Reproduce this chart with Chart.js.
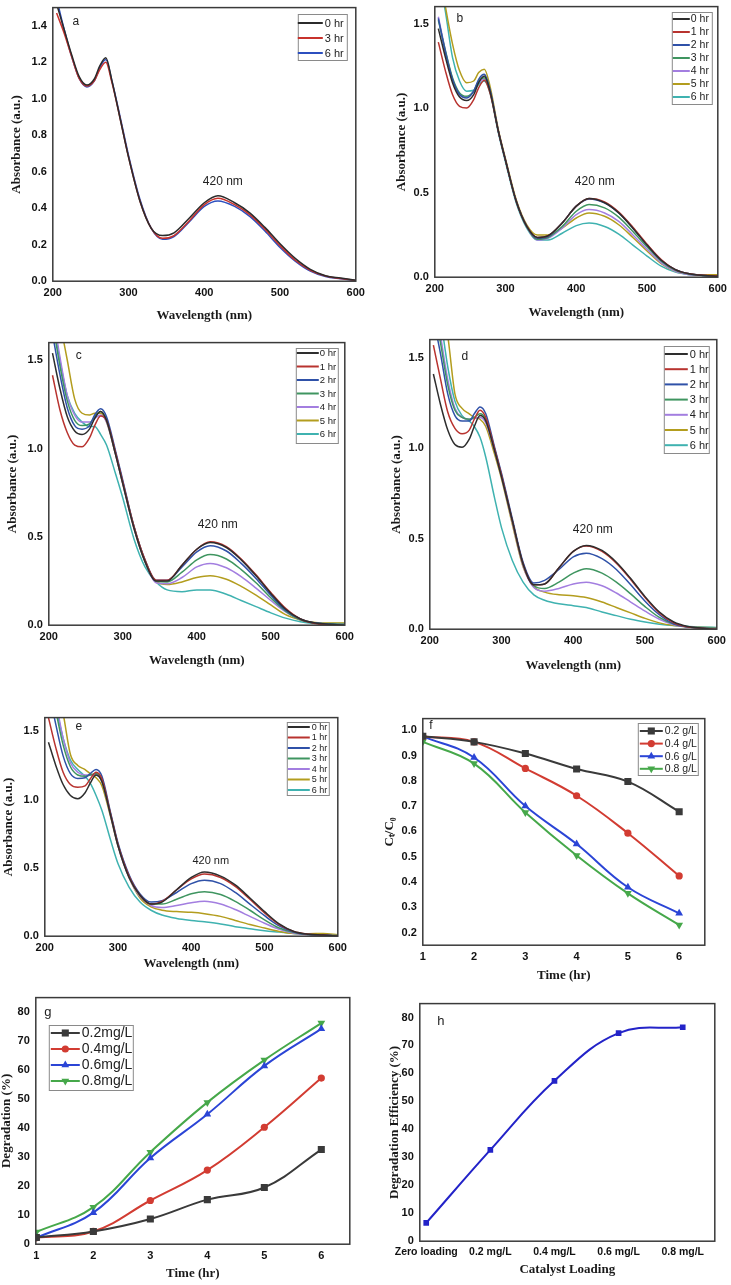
<!DOCTYPE html>
<html>
<head>
<meta charset="utf-8">
<script src="https://cdn.jsdelivr.net/npm/chart.js@4.4.0/dist/chart.umd.min.js"></script>
<style>
  body { margin: 0; background: #fff; width: 731px; height: 1285px; position: relative; overflow: hidden; }
  canvas { position: absolute; }
</style>
</head>
<body>
<canvas id="pa"></canvas>
<canvas id="pb"></canvas>
<canvas id="pc"></canvas>
<canvas id="pd"></canvas>
<canvas id="pe"></canvas>
<canvas id="pf"></canvas>
<canvas id="pg"></canvas>
<canvas id="ph"></canvas>
<script>
// ---- datos ----
const wl = [205, 215, 225, 235, 245, 255, 262, 270, 278, 290, 300, 315, 330, 345, 360, 380, 400, 418, 440, 460, 480, 500, 520, 540, 560, 580, 600];
const wlTicks = [200, 300, 400, 500, 600];
const absTicksA = [0, 0.2, 0.4, 0.6, 0.8, 1.0, 1.2, 1.4];
const absTicks = [0, 0.5, 1.0, 1.5];
const labelsA = ['0 hr', '3 hr', '6 hr'];
const labelsHr = ['0 hr', '1 hr', '2 hr', '3 hr', '4 hr', '5 hr', '6 hr'];

// panel a
const a0 = [1.52,1.38,1.24,1.12,1.075,1.11,1.18,1.225,1.10,0.87,0.68,0.44,0.29,0.25,0.265,0.345,0.43,0.468,0.43,0.375,0.295,0.205,0.125,0.065,0.03,0.017,0.005];
const a3 = [1.47,1.36,1.23,1.11,1.07,1.10,1.16,1.20,1.09,0.87,0.68,0.44,0.29,0.235,0.25,0.33,0.42,0.455,0.42,0.365,0.285,0.195,0.115,0.06,0.028,0.015,0.004];
const a6 = [1.55,1.38,1.23,1.11,1.065,1.10,1.17,1.215,1.10,0.88,0.69,0.45,0.29,0.23,0.245,0.325,0.41,0.44,0.41,0.355,0.275,0.185,0.11,0.055,0.025,0.013,0.003];

// panel b
const b0 = [1.47,1.30,1.15,1.065,1.045,1.08,1.15,1.19,1.10,0.86,0.69,0.45,0.30,0.235,0.245,0.32,0.42,0.465,0.44,0.38,0.29,0.19,0.10,0.045,0.02,0.01,0.005];
const b1 = [1.39,1.22,1.08,1.01,1.00,1.05,1.12,1.165,1.09,0.86,0.69,0.45,0.30,0.235,0.245,0.32,0.42,0.465,0.445,0.385,0.295,0.195,0.105,0.045,0.02,0.012,0.008];
const b2 = [1.53,1.33,1.17,1.08,1.06,1.10,1.17,1.20,1.11,0.86,0.69,0.45,0.30,0.23,0.24,0.32,0.42,0.463,0.44,0.38,0.29,0.19,0.10,0.045,0.02,0.01,0.005];
const b3 = [1.52,1.34,1.18,1.09,1.07,1.10,1.16,1.18,1.10,0.86,0.69,0.45,0.30,0.225,0.235,0.30,0.39,0.43,0.41,0.355,0.27,0.18,0.095,0.04,0.018,0.01,0.005];
const b4 = [1.54,1.34,1.17,1.08,1.065,1.10,1.15,1.17,1.10,0.86,0.69,0.45,0.30,0.22,0.23,0.29,0.37,0.40,0.38,0.33,0.25,0.165,0.085,0.035,0.015,0.01,0.005];
const b5 = [1.85,1.60,1.38,1.22,1.15,1.16,1.21,1.23,1.13,0.87,0.70,0.46,0.31,0.25,0.25,0.29,0.35,0.38,0.36,0.31,0.235,0.155,0.08,0.035,0.018,0.015,0.015];
const b6 = [1.80,1.57,1.30,1.16,1.10,1.105,1.14,1.16,1.09,0.85,0.68,0.44,0.29,0.22,0.22,0.26,0.305,0.32,0.30,0.255,0.19,0.125,0.065,0.03,0.015,0.01,0.005];

// panel c
const c0 = [1.54,1.34,1.18,1.10,1.08,1.11,1.17,1.21,1.16,0.97,0.80,0.55,0.36,0.25,0.25,0.34,0.43,0.468,0.44,0.37,0.28,0.18,0.09,0.035,0.012,0.005,0.0];
const c1 = [1.415,1.22,1.09,1.02,1.01,1.06,1.13,1.185,1.16,0.98,0.81,0.56,0.37,0.255,0.255,0.34,0.43,0.472,0.445,0.375,0.285,0.185,0.095,0.035,0.01,0.0,-0.01];
const c2 = [1.65,1.42,1.23,1.13,1.11,1.13,1.19,1.225,1.18,0.99,0.82,0.56,0.37,0.255,0.255,0.33,0.415,0.45,0.42,0.35,0.265,0.17,0.085,0.035,0.012,0.005,0.0];
const c3 = [1.72,1.47,1.27,1.16,1.13,1.14,1.18,1.21,1.16,0.98,0.81,0.56,0.365,0.25,0.245,0.30,0.37,0.40,0.375,0.315,0.24,0.155,0.08,0.03,0.012,0.008,0.005];
const c4 = [1.78,1.52,1.30,1.19,1.15,1.15,1.17,1.19,1.15,0.97,0.80,0.55,0.36,0.24,0.235,0.27,0.33,0.35,0.325,0.275,0.21,0.14,0.075,0.03,0.012,0.008,0.005];
const c5 = [1.95,1.72,1.50,1.28,1.20,1.19,1.20,1.20,1.15,0.97,0.80,0.55,0.36,0.245,0.23,0.245,0.27,0.28,0.26,0.22,0.17,0.115,0.06,0.03,0.015,0.012,0.012];
const c6 = [1.75,1.50,1.30,1.20,1.15,1.125,1.125,1.08,1.02,0.86,0.72,0.49,0.33,0.245,0.20,0.19,0.20,0.20,0.175,0.14,0.105,0.07,0.04,0.02,0.01,0.01,0.01];

// panel d
const d0 = [1.41,1.24,1.10,1.02,1.005,1.05,1.12,1.18,1.15,0.99,0.84,0.60,0.36,0.245,0.25,0.34,0.43,0.463,0.435,0.37,0.28,0.18,0.095,0.04,0.015,0.005,-0.005];
const d1 = [1.57,1.38,1.20,1.11,1.08,1.10,1.16,1.21,1.17,1.0,0.85,0.60,0.36,0.245,0.25,0.34,0.43,0.46,0.43,0.365,0.275,0.175,0.09,0.035,0.012,0.005,0.0];
const d2 = [1.72,1.52,1.30,1.18,1.15,1.15,1.19,1.228,1.19,1.01,0.86,0.61,0.37,0.255,0.27,0.33,0.40,0.42,0.39,0.33,0.245,0.155,0.08,0.03,0.012,0.005,0.0];
const d3 = [1.80,1.58,1.35,1.21,1.17,1.16,1.17,1.19,1.16,1.0,0.85,0.60,0.36,0.24,0.225,0.26,0.31,0.334,0.31,0.26,0.195,0.125,0.065,0.028,0.012,0.008,0.005];
const d4 = [1.85,1.62,1.38,1.22,1.17,1.16,1.165,1.17,1.14,0.99,0.84,0.59,0.35,0.23,0.21,0.225,0.25,0.26,0.24,0.20,0.15,0.10,0.055,0.025,0.012,0.008,0.005];
const d5 = [1.95,1.80,1.62,1.30,1.22,1.19,1.17,1.16,1.12,0.97,0.83,0.58,0.345,0.235,0.205,0.19,0.185,0.175,0.15,0.12,0.09,0.06,0.035,0.02,0.012,0.01,0.008];
const d6 = [1.95,1.72,1.45,1.26,1.18,1.15,1.12,1.06,0.95,0.73,0.56,0.38,0.26,0.19,0.16,0.14,0.13,0.12,0.095,0.075,0.055,0.04,0.028,0.02,0.015,0.012,0.01];

// panel e
const e0 = [1.42,1.25,1.11,1.03,1.006,1.05,1.12,1.18,1.13,0.88,0.66,0.43,0.30,0.235,0.25,0.34,0.43,0.47,0.44,0.375,0.28,0.18,0.09,0.035,0.015,0.008,0.0];
const e1 = [1.60,1.38,1.20,1.11,1.09,1.10,1.15,1.20,1.15,0.89,0.67,0.44,0.30,0.235,0.255,0.34,0.42,0.455,0.43,0.365,0.27,0.17,0.085,0.035,0.015,0.008,0.0];
const e2 = [1.80,1.55,1.32,1.19,1.155,1.16,1.19,1.22,1.17,0.90,0.68,0.45,0.31,0.25,0.26,0.32,0.385,0.41,0.385,0.32,0.235,0.15,0.075,0.03,0.012,0.008,0.0];
const e3 = [1.90,1.65,1.40,1.24,1.18,1.17,1.18,1.19,1.14,0.89,0.67,0.44,0.30,0.235,0.235,0.27,0.31,0.325,0.305,0.255,0.19,0.12,0.06,0.027,0.012,0.008,0.005];
const e4 = [1.95,1.72,1.45,1.27,1.20,1.18,1.18,1.18,1.13,0.88,0.66,0.43,0.29,0.225,0.21,0.225,0.245,0.255,0.235,0.195,0.145,0.095,0.05,0.022,0.012,0.008,0.005];
const e5 = [2.0,1.85,1.63,1.33,1.25,1.22,1.19,1.16,1.10,0.87,0.66,0.43,0.28,0.215,0.19,0.18,0.175,0.165,0.145,0.115,0.085,0.06,0.035,0.02,0.018,0.02,0.01];
const e6 = [1.90,1.68,1.45,1.29,1.22,1.17,1.12,1.03,0.92,0.70,0.53,0.36,0.25,0.19,0.155,0.13,0.115,0.105,0.09,0.07,0.055,0.04,0.03,0.02,0.015,0.01,0.01];

// panel f / g
const timeHr = [1, 2, 3, 4, 5, 6];
const labelsF = ['0.2 g/L', '0.4 g/L', '0.6 g/L', '0.8 g/L'];
const f02 = [0.976, 0.954, 0.908, 0.847, 0.797, 0.678];
const f04 = [0.975, 0.954, 0.849, 0.741, 0.593, 0.424];
const f06 = [0.976, 0.892, 0.700, 0.550, 0.379, 0.276];
const f08 = [0.954, 0.868, 0.675, 0.505, 0.355, 0.230];
const ctTicks = [0.2, 0.3, 0.4, 0.5, 0.6, 0.7, 0.8, 0.9, 1.0];

const labelsG = ['0.2mg/L', '0.4mg/L', '0.6mg/L', '0.8mg/L'];
const g02 = [2.1, 4.2, 8.5, 15.2, 19.4, 32.5];
const g04 = [2.0, 4.2, 14.9, 25.4, 40.2, 57.2];
const g06 = [2.0, 10.7, 29.6, 44.7, 61.4, 74.2];
const g08 = [4.0, 12.6, 31.6, 48.8, 63.4, 76.2];
const pctTicks = [0, 10, 20, 30, 40, 50, 60, 70, 80];

// panel h
const loadLabels = ['Zero loading', '0.2 mg/L', '0.4 mg/L', '0.6 mg/L', '0.8 mg/L'];
const hEff = [6.3, 32.5, 57.3, 74.4, 76.5];

// ---- estilos ----
const specColors = ['#2e2e2e', '#b8332f', '#2f51a8', '#3f9560', '#a37ee0', '#b39d1e', '#3fb2b0'];
const aColors = ['#2b2b2b', '#c8322c', '#2c4fbf'];
const lineColors = ['#3a3a3a', '#d23c32', '#2b45d6', '#46a84a'];
const SANS = 'Liberation Sans, Arial, sans-serif';
const SERIF = 'Liberation Serif, Times New Roman, serif';
const LH = 13 * 1.2;
const decoMap = {};

const decoPlugin = {
    id: 'deco',
    afterDraw(chart) {
        const d = decoMap[chart.canvas.id];
        if (!d) return;
        const ctx = chart.ctx, ca = chart.chartArea;
        ctx.save();
        // marco completo
        ctx.strokeStyle = '#3a3a3a';
        ctx.lineWidth = 1.5;
        ctx.strokeRect(ca.left, ca.top, ca.right - ca.left, ca.bottom - ca.top);

        // leyenda en caja
        const L = d.legend;
        if (L) {
            const bx = L.box[0] - d.ox, by = L.box[1] - d.oy;
            const bw = L.box[2] - L.box[0], bh = L.box[3] - L.box[1];
            ctx.fillStyle = '#fff';
            ctx.fillRect(bx, by, bw, bh);
            ctx.strokeStyle = '#8a8a8a';
            ctx.lineWidth = 1;
            ctx.strokeRect(bx + 0.5, by + 0.5, bw, bh);
            chart.data.datasets.forEach((ds, i) => {
                const y = L.y0 + i * L.dy - d.oy;
                ctx.strokeStyle = ds.borderColor;
                ctx.lineWidth = 2;
                ctx.beginPath();
                ctx.moveTo(L.lx0 - d.ox, y);
                ctx.lineTo(L.lx1 - d.ox, y);
                ctx.stroke();
                if (ds.pointRadius > 0) {
                    ctx.fillStyle = ds.borderColor;
                    Chart.helpers.drawPoint(ctx, {
                        pointStyle: ds.pointStyle, rotation: ds.pointRotation || 0,
                        radius: ds.pointRadius, borderWidth: 0
                    }, (L.lx0 + L.lx1) / 2 - d.ox, y);
                }
                ctx.fillStyle = '#222';
                ctx.font = L.font;
                ctx.textAlign = 'left';
                ctx.textBaseline = 'middle';
                ctx.fillText(ds.label, L.tx - d.ox, y + 0.5);
            });
        }

        // textos sueltos
        (d.notes || []).forEach(n => {
            ctx.font = n.font;
            ctx.fillStyle = '#222';
            ctx.textAlign = 'center';
            ctx.textBaseline = 'middle';
            ctx.fillText(n.text, n.x - d.ox, n.y - d.oy);
        });
        ctx.restore();
    }
};
Chart.register(decoPlugin);

function axis(o, P, left, isX) {
    return {
        type: 'linear',
        min: o.min,
        max: o.max,
        grid: { display: false, drawTicks: false },
        border: { display: false },
        ticks: {
            padding: isX ? 5 : 6,
            color: '#111',
            autoSkip: false,
            maxRotation: 0,
            font: { family: SANS, weight: 'bold', size: o.tickSize || 11 },
            callback: o.fmt
        },
        title: {
            display: true,
            text: o.title,
            color: '#1a1a1a',
            padding: 0,
            font: { family: SERIF, weight: 'bold', size: 13 }
        },
        afterBuildTicks: s => { s.ticks = o.ticks.map(v => ({ value: v })); },
        afterFit: isX
            ? s => { s.height = P.xty + LH / 2 - P.b; }
            : s => { s.width = P.l - left; }
    };
}

function makePanel(id, P, datasets, xo, yo, deco) {
    const left = P.ytx - LH / 2;
    const top = P.t - 12;
    const w = Math.round(P.r + 14 - left);
    const h = Math.round(P.xty + LH / 2 - top);
    const cv = document.getElementById(id);
    cv.style.left = left + 'px';
    cv.style.top = top + 'px';
    cv.width = w;
    cv.height = h;
    deco.ox = left;
    deco.oy = top;
    decoMap[id] = deco;
    return new Chart(cv.getContext('2d'), {
        type: 'line',
        data: { datasets: datasets },
        options: {
            responsive: false,
            animation: false,
            layout: { padding: { left: 0, top: 12, right: w - (P.r - left), bottom: 0 } },
            plugins: { legend: { display: false }, tooltip: { enabled: false } },
            scales: { x: axis(xo, P, left, true), y: axis(yo, P, left, false) }
        }
    });
}

function specSets(series, labels, colors) {
    return series.map((s, i) => ({
        label: labels[i],
        data: s.map((v, k) => ({ x: wl[k], y: v })),
        borderColor: colors[i],
        borderWidth: 1.5,
        pointRadius: 0,
        cubicInterpolationMode: 'monotone',
        fill: false
    }));
}

const markers = [
    { pointStyle: 'rect', pointRadius: 5, pointRotation: 0 },
    { pointStyle: 'circle', pointRadius: 3.6, pointRotation: 0 },
    { pointStyle: 'triangle', pointRadius: 4.5, pointRotation: 0 },
    { pointStyle: 'triangle', pointRadius: 4.5, pointRotation: 180 }
];

function timeSets(series, labels) {
    return series.map((s, i) => Object.assign({
        label: labels[i],
        data: s.map((v, k) => ({ x: timeHr[k], y: v })),
        borderColor: lineColors[i],
        backgroundColor: lineColors[i],
        pointBackgroundColor: lineColors[i],
        pointBorderWidth: 0,
        borderWidth: 2,
        tension: 0.4,
        fill: false
    }, markers[i]));
}

const fmt1 = v => v.toFixed(1);
const fmt0 = v => String(v);
const wlX = { min: 200, max: 600, ticks: wlTicks, fmt: fmt0, title: 'Wavelength (nm)' };
const absY = { min: 0, max: 1.6, ticks: absTicks, fmt: fmt1, title: 'Absorbance (a.u.)' };
const fontNote = '12px ' + SANS;

// a
makePanel('pa', { l: 53, t: 7, r: 356, b: 281, ytx: 17, xty: 315 },
    specSets([a0, a3, a6], labelsA, aColors), wlX,
    { min: 0, max: 1.5, ticks: absTicksA, fmt: fmt1, title: 'Absorbance (a.u.)' },
    { legend: { box: [298, 14, 347, 60], y0: 23, dy: 15, lx0: 298, lx1: 323, tx: 325, font: '11px ' + SANS },
      notes: [{ text: 'a', x: 76, y: 22, font: fontNote }, { text: '420 nm', x: 223, y: 182, font: fontNote }] });

// b
makePanel('pb', { l: 435, t: 6, r: 718, b: 277, ytx: 402, xty: 312 },
    specSets([b0, b1, b2, b3, b4, b5, b6], labelsHr, specColors), wlX, absY,
    { legend: { box: [672, 12, 712, 104], y0: 19, dy: 13, lx0: 673, lx1: 690, tx: 691, font: '10.5px ' + SANS },
      notes: [{ text: 'b', x: 460, y: 19, font: fontNote }, { text: '420 nm', x: 595, y: 182, font: fontNote }] });

// c
makePanel('pc', { l: 49, t: 342, r: 345, b: 625, ytx: 13, xty: 660 },
    specSets([c0, c1, c2, c3, c4, c5, c6], labelsHr, specColors), wlX, absY,
    { legend: { box: [296, 348, 338, 443], y0: 353, dy: 13.5, lx0: 297, lx1: 319, tx: 320, font: '9.5px ' + SANS },
      notes: [{ text: 'c', x: 79, y: 356, font: fontNote }, { text: '420 nm', x: 218, y: 525, font: fontNote }] });

// d
makePanel('pd', { l: 430, t: 339, r: 717, b: 629, ytx: 397, xty: 665 },
    specSets([d0, d1, d2, d3, d4, d5, d6], labelsHr, specColors), wlX, absY,
    { legend: { box: [664, 346, 709, 453], y0: 354, dy: 15.2, lx0: 665, lx1: 688, tx: 690, font: '11px ' + SANS },
      notes: [{ text: 'd', x: 465, y: 357, font: fontNote }, { text: '420 nm', x: 593, y: 530, font: fontNote }] });

// e
makePanel('pe', { l: 45, t: 717, r: 338, b: 936, ytx: 9, xty: 963 },
    specSets([e0, e1, e2, e3, e4, e5, e6], labelsHr, specColors), wlX, absY,
    { legend: { box: [287, 722, 329, 795], y0: 727, dy: 10.5, lx0: 288, lx1: 310, tx: 312, font: '9px ' + SANS },
      notes: [{ text: 'e', x: 79, y: 727, font: fontNote }, { text: '420 nm', x: 211, y: 861, font: '11px ' + SANS }] });

// f
makePanel('pf', { l: 423, t: 718, r: 705, b: 945, ytx: 390, xty: 975 },
    timeSets([f02, f04, f06, f08], labelsF),
    { min: 1, max: 6.5, ticks: timeHr, fmt: fmt0, title: 'Time (hr)' },
    { min: 0.15, max: 1.046, ticks: ctTicks, fmt: fmt1, title: 'C\u209C/C\u2080' },
    { legend: { box: [638, 723, 698, 775], y0: 731, dy: 12.6, lx0: 640, lx1: 663, tx: 665, font: '10.5px ' + SANS },
      notes: [{ text: 'f', x: 431, y: 726, font: fontNote }] });

// g
makePanel('pg', { l: 36, t: 997, r: 350, b: 1244, ytx: 7, xty: 1273 },
    timeSets([g02, g04, g06, g08], labelsG),
    { min: 0.99, max: 6.5, ticks: timeHr, fmt: fmt0, title: 'Time (hr)' },
    { min: -0.2, max: 85, ticks: pctTicks, fmt: fmt0, title: 'Degradation (%)' },
    { legend: { box: [49, 1025, 133, 1090], y0: 1033, dy: 16, lx0: 51, lx1: 80, tx: 82, font: '14px ' + SANS },
      notes: [{ text: 'g', x: 48, y: 1012, font: '13px ' + SANS }] });

// h
makePanel('ph', { l: 420, t: 1003, r: 715, b: 1241, ytx: 395, xty: 1269 },
    [{
        label: 'Degradation Efficiency',
        data: hEff.map((v, k) => ({ x: k, y: v })),
        borderColor: '#2323c8',
        backgroundColor: '#2323c8',
        pointBackgroundColor: '#2323c8',
        pointBorderWidth: 0,
        pointStyle: 'rect',
        pointRadius: 4,
        borderWidth: 2,
        tension: 0.4,
        fill: false
    }],
    { min: -0.1, max: 4.5, ticks: [0, 1, 2, 3, 4], fmt: v => loadLabels[v], title: 'Catalyst Loading', tickSize: 10.5 },
    { min: -0.25, max: 85, ticks: pctTicks, fmt: fmt0, title: 'Degradation Efficiency (%)' },
    { notes: [{ text: 'h', x: 441, y: 1021, font: '13px ' + SANS }] });
</script>
</body>
</html>
